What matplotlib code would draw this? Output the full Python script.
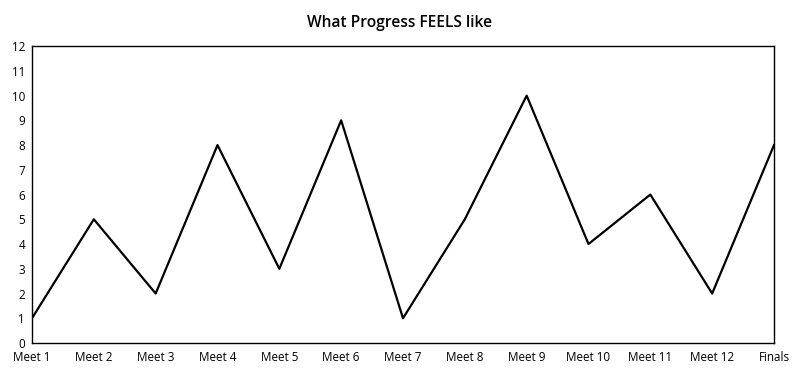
import matplotlib
matplotlib.use("Agg")
import matplotlib.pyplot as plt

categories = ["Meet 1", "Meet 2", "Meet 3", "Meet 4", "Meet 5", "Meet 6", "Meet 7",
              "Meet 8", "Meet 9", "Meet 10", "Meet 11", "Meet 12", "Finals"]
values = [1, 5, 2, 8, 3, 9, 1, 5, 10, 4, 6, 2, 8]
yticks = list(range(0, 13))

plt.rcParams['font.family'] = ['Open Sans', 'DejaVu Sans']

fig = plt.figure(figsize=(8, 3.72), dpi=100)
ax = fig.add_axes([0.04, 0.078, 0.9275, 0.798])
x = list(range(len(categories)))
ax.plot(x, values, color="black", linewidth=1.6)
ax.set_xlim(0, len(categories) - 1)
ax.set_ylim(0, 12)
ax.set_xticks(x)
ax.set_xticklabels(categories, fontsize=8.4)
ax.set_yticks(yticks)
ax.set_yticklabels([str(v) for v in yticks], fontsize=8.4)
ax.tick_params(axis="x", length=0, pad=6)
ax.tick_params(axis="y", length=0, pad=5)
for s in ax.spines.values():
    s.set_linewidth(1.0)
fig.text(0.5, 0.937, "What Progress FEELS like", ha="center", va="center",
         fontsize=11.2, fontweight="semibold")
fig.savefig("out.png", dpi=100)
